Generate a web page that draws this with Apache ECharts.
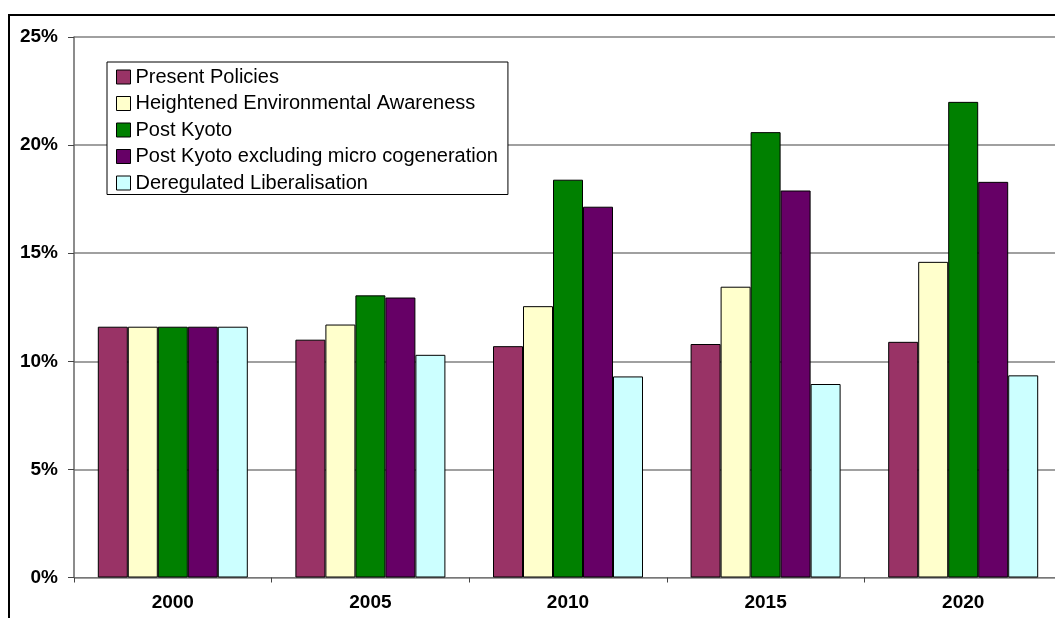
<!DOCTYPE html>
<html>
<head>
<meta charset="utf-8">
<script src="https://cdn.jsdelivr.net/npm/echarts@6/dist/echarts.min.js"></script>
<style>
  html, body { margin: 0; padding: 0; background: #fff; overflow: hidden; }
  #chart { position: absolute; left: 0; top: 0; width: 1100px; height: 640px; }
</style>
</head>
<body>
<div id="chart"></div>
<script>
const years = ['2000', '2005', '2010', '2015', '2020']
const presentPolicies = [11.6, 11.0, 10.7, 10.8, 10.9]
const heightenedAwareness = [11.6, 11.7, 12.55, 13.45, 14.6]
const postKyoto = [11.6, 13.05, 18.4, 20.6, 22.0]
const postKyotoExMicro = [11.6, 12.95, 17.15, 17.9, 18.3]
const deregulated = [11.6, 10.3, 9.3, 8.95, 9.35]

const seriesNames = [
  'Present Policies',
  'Heightened Environmental Awareness',
  'Post Kyoto',
  'Post Kyoto excluding micro cogeneration',
  'Deregulated Liberalisation'
]
const seriesData = [presentPolicies, heightenedAwareness, postKyoto, postKyotoExMicro, deregulated]
const colors = ['#993366', '#FFFFCC', '#008000', '#660066', '#CCFFFF']

const font = 'Arial, "Liberation Sans", sans-serif'

const chart = echarts.init(document.getElementById('chart'))
chart.setOption({
  animation: false,
  backgroundColor: '#fff',
  graphic: [{
    type: 'rect', silent: true, z: -1,
    shape: { x: 9, y: 15, width: 1200, height: 700 },
    style: { fill: 'none', stroke: '#000', lineWidth: 2 }
  }],
  grid: { left: 74, top: 37, width: 988, height: 540.5 },
  legend: {
    orient: 'vertical', left: 107, top: 62,
    padding: [5, 10, 1.5, 9],
    itemWidth: 14, itemHeight: 14, itemGap: 6.5,
    icon: 'rect',
    backgroundColor: '#fff', borderColor: '#000', borderWidth: 1,
    textStyle: { fontFamily: font, fontSize: 20, lineHeight: 20, color: '#000' },
    itemStyle: { borderColor: '#000', borderWidth: 1 },
    data: seriesNames
  },
  xAxis: {
    type: 'category', data: years,
    axisLine: { lineStyle: { color: '#777', width: 1 } },
    axisTick: { show: true, length: 5, lineStyle: { color: '#444' } },
    axisLabel: { margin: 16, fontFamily: font, fontSize: 19, fontWeight: 'bold', color: '#000' }
  },
  yAxis: {
    type: 'value', min: 0, max: 25, interval: 5,
    axisLine: { show: true, lineStyle: { color: '#666', width: 1.5 } },
    axisTick: { show: true, length: 6, lineStyle: { color: '#444' } },
    splitLine: { lineStyle: { color: '#808080', width: 1.5 } },
    axisLabel: { margin: 16, formatter: '{value}%', fontFamily: font, fontSize: 19, fontWeight: 'bold', color: '#000' }
  },
  series: seriesNames.map((name, i) => ({
    name, type: 'bar', data: seriesData[i],
    barWidth: 30, barGap: '0%',
    itemStyle: { color: colors[i], borderColor: '#000', borderWidth: 1 }
  }))
})
</script>
</body>
</html>
